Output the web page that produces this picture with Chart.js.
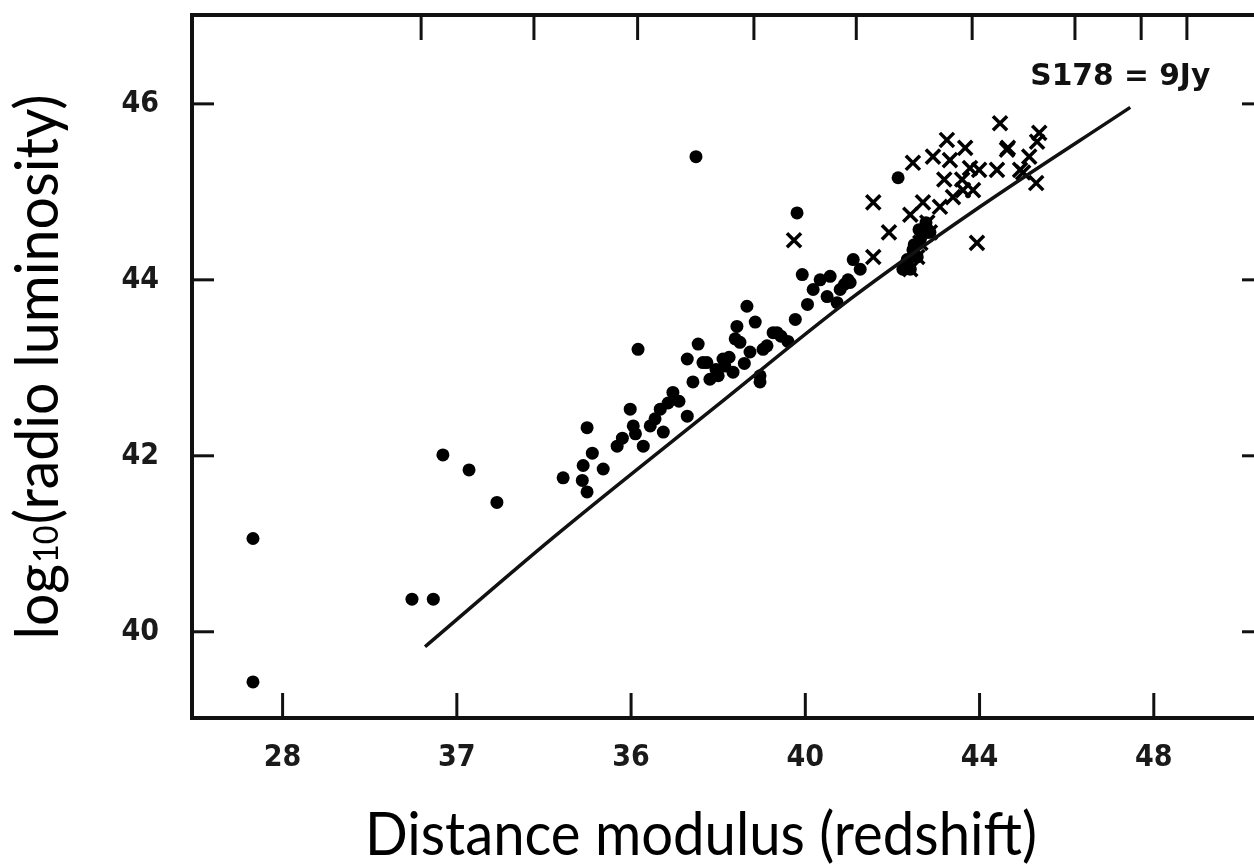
<!DOCTYPE html>
<html>
<head>
<meta charset="utf-8">
<script src="https://cdn.jsdelivr.net/npm/chart.js@4.4.1/dist/chart.umd.min.js"></script>
<style>
html,body{margin:0;padding:0;background:#fff;overflow:hidden;width:1254px;height:865px}
canvas{display:block}
</style>
</head>
<body>
<canvas id="c" width="1280" height="865"></canvas>
<script>
// ---- data ----
const xTickValues = [28, 32, 36, 40, 44, 48];
const xTickLabels = ["28", "37", "36", "40", "44", "48"];
const yTickValues = [40, 42, 44, 46];
const yTickLabels = ["40", "42", "44", "46"];
const topTickValues = [31.18, 33.77, 36.15, 38.82, 41.17, 43.83, 46.19, 47.71, 48.76];

const dotX = [27.32, 27.32, 30.97, 31.46, 31.68, 32.28, 32.92, 37.49, 36.16, 39.81, 42.13,
  34.99, 34.44, 35.11, 34.90, 34.88, 34.99, 35.36, 35.68, 35.98, 36.05, 36.44, 36.28, 36.67,
  36.96, 36.74, 37.29, 37.54, 37.65, 37.42, 37.81, 37.29, 38.11, 38.43, 38.66, 38.85, 38.50,
  38.73, 38.34, 38.96, 39.12, 39.26, 39.77, 39.35, 39.03, 39.93, 40.34, 40.57, 40.18, 40.50,
  40.80, 41.10, 41.26, 41.03, 40.73, 42.34, 42.47, 42.64, 42.80, 42.24, 42.57, 42.41, 42.86,
  38.39, 37.74, 38.15, 39.44, 40.98, 42.61, 42.77, 42.36, 38.96, 38.00,
  35.80, 36.10, 36.55, 36.85, 37.10, 37.95, 38.25, 38.60, 39.60, 40.05, 40.90, 42.50];
const dotY = [41.06, 39.43, 40.37, 40.37, 42.01, 41.84, 41.47, 45.40, 43.21, 44.76, 45.16,
  42.32, 41.75, 42.03, 41.89, 41.72, 41.59, 41.85, 42.11, 42.53, 42.34, 42.34, 42.11, 42.53,
  42.72, 42.27, 43.10, 43.27, 43.06, 42.84, 42.87, 42.45, 43.10, 43.47, 43.70, 43.52, 43.29,
  43.18, 42.95, 42.91, 43.25, 43.40, 43.55, 43.40, 43.21, 44.06, 44.00, 44.04, 43.89, 43.81,
  43.89, 44.23, 44.12, 43.97, 43.74, 44.23, 44.34, 44.46, 44.54, 44.12, 44.26, 44.12, 44.54,
  43.33, 43.06, 43.02, 43.36, 44.00, 44.57, 44.65, 44.15, 42.84, 42.91,
  42.20, 42.25, 42.42, 42.60, 42.62, 42.98, 43.12, 43.05, 43.30, 43.72, 43.95, 44.40];

const crossX = [39.74, 41.56, 41.92, 42.47, 42.93, 43.25, 43.67, 43.19, 43.99, 44.40, 44.63,
  44.47, 45.37, 45.14, 45.30, 43.94, 42.41, 41.56, 43.60, 43.39, 43.09, 42.70, 43.78, 44.93,
  45.00, 42.80, 42.64, 42.57, 42.41, 43.32, 43.85, 45.32, 44.65, 43.62, 42.86];
const crossY = [44.45, 44.88, 44.54, 45.33, 45.40, 45.59, 45.50, 45.14, 45.25, 45.25, 45.48,
  45.78, 45.67, 45.40, 45.10, 44.42, 44.74, 44.26, 45.14, 44.94, 44.83, 44.88, 45.27, 45.25,
  45.22, 44.65, 44.42, 44.26, 44.12, 45.36, 45.02, 45.57, 45.50, 45.02, 44.54];

// flux limit curve S178 = 9 Jy
const limitX = [31.27, 34.21, 37.97, 41.03, 44.01, 47.46];
const limitY = [39.83, 41.07, 42.57, 43.78, 44.83, 45.96];

const curveLabel = "S178 = 9Jy";
const curveLabelX = 47.23;
const curveLabelY = 46.30;

const xTitle = "Distance modulus (redshift)";
const yTitleParts = ["log", "10", "(radio luminosity)"];

// ---- chart ----
const INK = '#111';
const tickFont = {family: '"DejaVu Sans Condensed", "DejaVu Sans"', size: 30, weight: 'bold'};

const pts = (xs, ys) => xs.map((x, i) => ({x: x, y: ys[i]}));

const inwardTicks = {
  id: 'inwardTicks',
  afterDatasetsDraw(chart) {
    const {ctx, chartArea: a, scales} = chart;
    ctx.save();
    ctx.strokeStyle = INK;
    ctx.lineWidth = 3;
    const seg = (x1, y1, x2, y2) => { ctx.beginPath(); ctx.moveTo(x1, y1); ctx.lineTo(x2, y2); ctx.stroke(); };
    scales.x.ticks.forEach(t => { const p = scales.x.getPixelForValue(t.value); seg(p, a.bottom, p, a.bottom - 25); });
    scales.xTop.ticks.forEach(t => { const p = scales.xTop.getPixelForValue(t.value); seg(p, a.top, p, a.top + 25); });
    scales.y.ticks.forEach(t => {
      const p = scales.y.getPixelForValue(t.value);
      seg(a.left, p, a.left + 22, p);
      seg(a.right, p, a.right - 22, p);
    });
    // curve label
    ctx.fillStyle = INK;
    ctx.font = 'bold 30px "DejaVu Sans Condensed", "DejaVu Sans"';
    ctx.textAlign = 'center';
    ctx.textBaseline = 'middle';
    const lx = scales.x.getPixelForValue(curveLabelX), ly = scales.y.getPixelForValue(curveLabelY);
    const lw = ctx.measureText(curveLabel).width;
    ctx.translate(lx, ly);
    ctx.scale(180 / lw, 1);
    ctx.fillText(curveLabel, 0, 0);
    ctx.restore();
  }
};

const axisTitles = {
  id: 'axisTitles',
  afterDraw(chart) {
    const ctx = chart.ctx;
    ctx.save();
    ctx.fillStyle = '#000';
    ctx.textBaseline = 'alphabetic';
    // x title
    ctx.font = '60px Lato';
    ctx.textAlign = 'center';
    const w = ctx.measureText(xTitle).width;
    ctx.save();
    ctx.translate(701, 855);
    ctx.scale(672 / w, 1);
    ctx.fillText(xTitle, 0, 0);
    ctx.restore();
    // y title (rotated)
    const big = '60px Lato', small = '34px Lato';
    ctx.font = big; const w0 = ctx.measureText(yTitleParts[0]).width;
    ctx.font = small; const w1 = ctx.measureText(yTitleParts[1]).width;
    ctx.font = big; const w2 = ctx.measureText(yTitleParts[2]).width;
    const total = w0 + w1 + 2 + w2;
    ctx.save();
    ctx.translate(58, 367);
    ctx.rotate(-Math.PI / 2);
    ctx.scale(545 / total, 1);
    ctx.textAlign = 'left';
    let x = -total / 2;
    ctx.font = big; ctx.fillText(yTitleParts[0], x, 0); x += w0;
    ctx.font = small; ctx.fillText(yTitleParts[1], x + 1, 0); x += w1 + 2;
    ctx.font = big; ctx.fillText(yTitleParts[2], x, 0);
    ctx.restore();
    ctx.restore();
  }
};

new Chart(document.getElementById('c'), {
  type: 'scatter',
  data: {
    datasets: [
      {
        label: 'limit',
        data: pts(limitX, limitY),
        showLine: true,
        borderColor: INK,
        borderWidth: 3.5,
        pointRadius: 0,
        cubicInterpolationMode: 'monotone',
        fill: false
      },
      {
        label: 'galaxies',
        data: pts(dotX, dotY),
        pointStyle: 'circle',
        pointRadius: 6.5,
        backgroundColor: '#000',
        borderColor: '#000',
        borderWidth: 0
      },
      {
        label: 'quasars',
        data: pts(crossX, crossY),
        pointStyle: 'crossRot',
        pointRadius: 10,
        borderColor: '#000',
        borderWidth: 3.5
      }
    ]
  },
  options: {
    responsive: false,
    animation: false,
    devicePixelRatio: 1,
    events: [],
    layout: {autoPadding: false, padding: {left: 0, right: 16, top: 0, bottom: 0}},
    plugins: {legend: {display: false}, tooltip: {enabled: false}},
    scales: {
      x: {
        type: 'linear', position: 'bottom', min: 25.92, max: 50.53,
        afterBuildTicks: s => { s.ticks = xTickValues.map(v => ({value: v})); },
        afterFit: s => { s.height = 147; s.paddingLeft = 0; s.paddingRight = 0; },
        grid: {display: false},
        border: {display: true, color: INK, width: 4},
        ticks: {callback: (v, i) => xTickLabels[i], font: tickFont, color: '#1a1a1a', padding: 14, maxRotation: 0, autoSkip: false}
      },
      xTop: {
        type: 'linear', position: 'top', min: 25.92, max: 50.53,
        afterBuildTicks: s => { s.ticks = topTickValues.map(v => ({value: v})); },
        afterFit: s => { s.height = 15; s.paddingLeft = 0; s.paddingRight = 0; },
        grid: {display: false},
        border: {display: true, color: INK, width: 4},
        ticks: {display: false}
      },
      y: {
        type: 'linear', position: 'left', min: 39.02, max: 47.01,
        afterBuildTicks: s => { s.ticks = yTickValues.map(v => ({value: v})); },
        afterFit: s => { s.width = 192; s.paddingTop = 0; s.paddingBottom = 0; },
        grid: {display: false},
        border: {display: true, color: INK, width: 4},
        ticks: {callback: (v, i) => yTickLabels[i], font: tickFont, color: '#1a1a1a', padding: 25}
      }
    }
  },
  plugins: [inwardTicks, axisTitles]
});
</script>
</body>
</html>
